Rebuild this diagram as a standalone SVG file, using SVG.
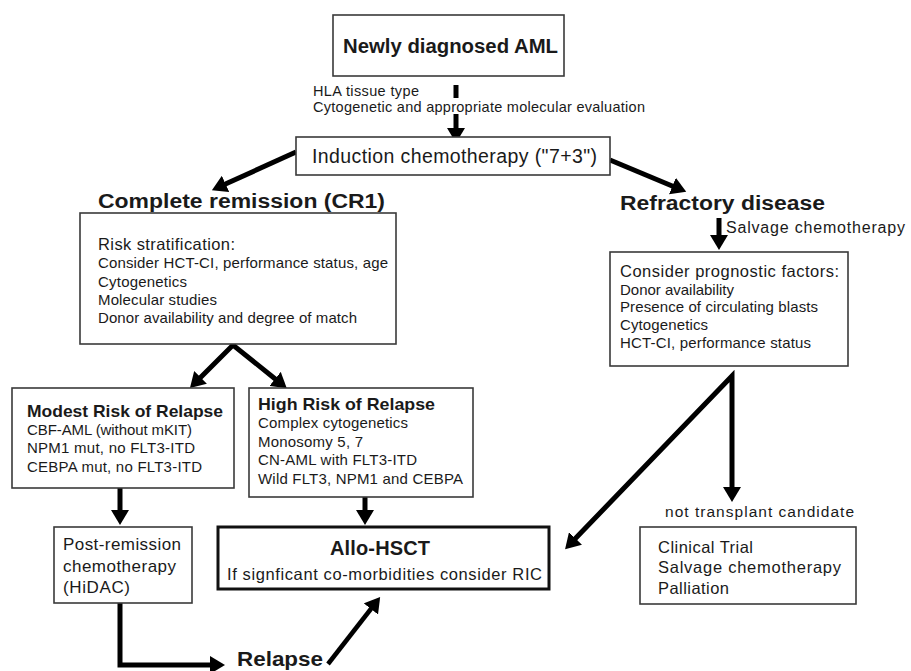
<svg xmlns="http://www.w3.org/2000/svg" width="911" height="671" viewBox="0 0 911 671">
<defs>
<style>
text{font-family:"Liberation Sans",Arial,sans-serif;fill:#1a1a1a;}
.b{font-weight:bold;}
.box{fill:#fff;stroke:#3a3a3a;stroke-width:1.6;}
.thick{fill:#fff;stroke:#111;stroke-width:3;}
.arr{fill:none;stroke:#000;stroke-width:5;stroke-linejoin:miter;}
.arr4{fill:none;stroke:#000;stroke-width:4.5;stroke-linejoin:miter;}
</style>
<marker id="ah" markerUnits="userSpaceOnUse" markerWidth="16" markerHeight="18" viewBox="0 0 16 18" refX="5" refY="9" orient="auto-start-reverse">
<path d="M0,0 L15,9 L0,18 z" fill="#000"/>
</marker>
</defs>
<rect width="911" height="671" fill="#fff"/>

<g id="connectors">
<path class="arr" d="M456,85 L456,98"/>
<path class="arr" d="M456,114 L456,133" marker-end="url(#ah)"/>
<path class="arr" d="M296,152 L221,186" marker-end="url(#ah)"/>
<path class="arr" d="M610,160 L677,188" marker-end="url(#ah)"/>
<path class="arr" d="M719,218 L719,240" marker-end="url(#ah)"/>
<path class="arr" d="M197,381 L233,345 L279,382" marker-start="url(#ah)" marker-end="url(#ah)"/>
<path class="arr" d="M120,488 L120,515" marker-end="url(#ah)"/>
<path class="arr" d="M365,497 L365,515" marker-end="url(#ah)"/>
<path class="arr" d="M572,542 L732,376 L732,492" marker-start="url(#ah)" marker-end="url(#ah)"/>
<path class="arr" d="M120,603 L120,665 L215,665" marker-end="url(#ah)"/>
<path class="arr4" d="M328,664 L374,605" marker-end="url(#ah)"/>
</g>

<g id="newly">
<rect class="box" x="333" y="15" width="231" height="61"/>
<text class="b" x="343" y="53" font-size="19.5" textLength="215" lengthAdjust="spacingAndGlyphs">Newly diagnosed AML</text>
</g>

<g id="eval-label">
<text x="313" y="96" font-size="14.5" textLength="106">HLA tissue type</text>
<text x="313" y="112" font-size="14.5" textLength="332">Cytogenetic and appropriate molecular evaluation</text>
</g>

<g id="induction">
<rect class="box" x="296" y="137" width="314" height="38"/>
<text x="312" y="163" font-size="19.5" textLength="285">Induction chemotherapy ("7+3")</text>
</g>

<g id="cr1">
<text class="b" x="98" y="208" font-size="19.5" textLength="287" lengthAdjust="spacingAndGlyphs">Complete remission (CR1)</text>
<rect class="box" x="80" y="213" width="316" height="131"/>
<text x="98" y="250" font-size="16.5" textLength="137">Risk stratification:</text>
<text x="98" y="268" font-size="15" textLength="290">Consider HCT-CI, performance status, age</text>
<text x="98" y="287" font-size="15" textLength="89">Cytogenetics</text>
<text x="98" y="305" font-size="15" textLength="119">Molecular studies</text>
<text x="98" y="323" font-size="15" textLength="259">Donor availability and degree of match</text>
</g>

<g id="refractory">
<text class="b" x="620" y="210" font-size="19.5" textLength="205" lengthAdjust="spacingAndGlyphs">Refractory disease</text>
<text x="726" y="233" font-size="16" textLength="179">Salvage chemotherapy</text>
</g>

<g id="prognostic">
<rect class="box" x="610" y="252" width="238" height="114"/>
<text x="620" y="277" font-size="16.5" textLength="219">Consider prognostic factors:</text>
<text x="620" y="295" font-size="15" textLength="114">Donor availability</text>
<text x="620" y="312" font-size="15" textLength="198">Presence of circulating blasts</text>
<text x="620" y="330" font-size="15" textLength="88">Cytogenetics</text>
<text x="620" y="348" font-size="15" textLength="191">HCT-CI, performance status</text>
</g>

<g id="modest">
<rect class="box" x="12" y="388" width="222" height="100"/>
<text class="b" x="27" y="417" font-size="17" textLength="196" lengthAdjust="spacingAndGlyphs">Modest Risk of Relapse</text>
<text x="27" y="435" font-size="15" textLength="165">CBF-AML (without mKIT)</text>
<text x="27" y="453" font-size="15" textLength="168">NPM1 mut, no FLT3-ITD</text>
<text x="27" y="472" font-size="15" textLength="175">CEBPA mut, no FLT3-ITD</text>
</g>

<g id="high">
<rect class="box" x="249" y="388" width="224" height="109"/>
<text class="b" x="258" y="410" font-size="17" textLength="177" lengthAdjust="spacingAndGlyphs">High Risk of Relapse</text>
<text x="258" y="428" font-size="15" textLength="150">Complex cytogenetics</text>
<text x="258" y="447" font-size="15" textLength="105">Monosomy 5, 7</text>
<text x="258" y="465" font-size="15" textLength="159">CN-AML with FLT3-ITD</text>
<text x="258" y="484" font-size="15" textLength="205">Wild FLT3, NPM1 and CEBPA</text>
</g>

<g id="postremission">
<rect class="box" x="54" y="527" width="138" height="76"/>
<text x="63" y="550" font-size="17" textLength="118">Post-remission</text>
<text x="63" y="572" font-size="17" textLength="113">chemotherapy</text>
<text x="63" y="593" font-size="17" textLength="67">(HiDAC)</text>
</g>

<g id="allo">
<rect class="thick" x="218" y="527" width="331" height="62"/>
<text class="b" x="330" y="555" font-size="20" textLength="100">Allo-HSCT</text>
<text x="227" y="580" font-size="16.5" textLength="315">If signficant co-morbidities consider RIC</text>
</g>

<g id="relapse">
<text class="b" x="237" y="666" font-size="21" textLength="86" lengthAdjust="spacingAndGlyphs">Relapse</text>
</g>

<g id="not-candidate">
<text x="665" y="517" font-size="15.5" textLength="189">not transplant candidate</text>
<rect class="box" x="640" y="527" width="216" height="77"/>
<text x="658" y="553" font-size="16.5" textLength="95">Clinical Trial</text>
<text x="658" y="573" font-size="16.5" textLength="183">Salvage chemotherapy</text>
<text x="658" y="594" font-size="16.5" textLength="71">Palliation</text>
</g>
</svg>
